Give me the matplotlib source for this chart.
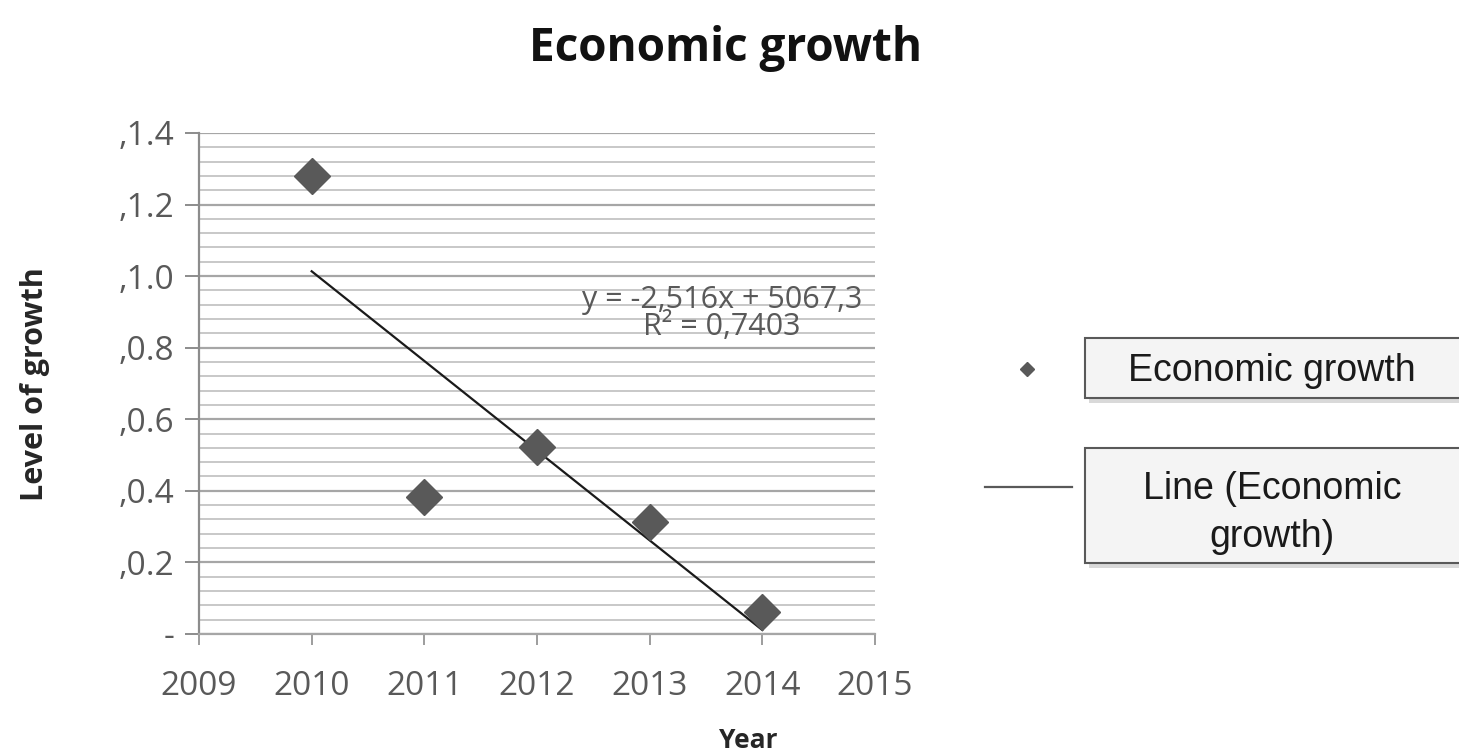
import matplotlib
matplotlib.use("Agg")
import matplotlib.pyplot as plt
import numpy as np
from matplotlib.patches import Rectangle
from matplotlib.lines import Line2D
from matplotlib.ticker import MultipleLocator, FixedLocator, FixedFormatter

# Data
years = [2010, 2011, 2012, 2013, 2014]
growth = [1.28, 0.383, 0.523, 0.313, 0.062]

y_ticks = [0.0, 0.2, 0.4, 0.6, 0.8, 1.0, 1.2, 1.4]
y_tick_labels = ["-", ",0.2", ",0.4", ",0.6", ",0.8", ",1.0", ",1.2", ",1.4"]
x_ticks = [2009, 2010, 2011, 2012, 2013, 2014, 2015]

equation_text = "y = -2,516x + 5067,3\nR\u00b2 = 0,7403"
title_text = "Economic growth"
legend_labels = ["Economic growth", "Line (Economic\ngrowth)"]

# Styling
marker_color = "#595959"
tick_color = "#595959"
grid_major = "#a6a6a6"
grid_minor = "#c4c4c4"
chart_font = "Open Sans"
legend_font = "Liberation Sans"

plt.rcParams['font.family'] = chart_font

fig = plt.figure(figsize=(14.59, 7.54), dpi=100)
ax = fig.add_axes([0.1364, 0.1592, 0.4633, 0.6645])

ax.plot(years, growth, linestyle="none", marker="D", markersize=18,
        color=marker_color, zorder=4)

# linear trendline
slope, intercept = np.polyfit(years, growth, 1)
trend_x = np.array([years[0], years[-1]])
ax.plot(trend_x, slope * trend_x + intercept, color="#1a1a1a", lw=1.6, zorder=3)

ax.text(2013.64, 0.895, equation_text, ha="center", va="center",
        multialignment="center", linespacing=0.85, fontsize=22,
        color="#595959", zorder=5)

ax.set_xlim(2009, 2015)
ax.set_ylim(0, 1.4)
ax.xaxis.set_major_locator(FixedLocator(x_ticks))
ax.yaxis.set_major_locator(FixedLocator(y_ticks))
ax.yaxis.set_major_formatter(FixedFormatter(y_tick_labels))
ax.yaxis.set_minor_locator(MultipleLocator(0.04))

ax.grid(axis="y", which="major", color=grid_major, lw=1.6, zorder=0)
ax.grid(axis="y", which="minor", color=grid_minor, lw=1.3, zorder=0)
ax.set_axisbelow(True)

for side in ["top", "right"]:
    ax.spines[side].set_visible(False)
ax.spines["left"].set_color("#8c8c8c")
ax.spines["left"].set_linewidth(1.6)
ax.spines["bottom"].set_color(grid_major)
ax.spines["bottom"].set_linewidth(1.6)

ax.tick_params(axis="y", which="major", length=10, width=1.4, color="#8c8c8c",
               pad=8, labelsize=24, labelcolor=tick_color)
ax.tick_params(axis="y", which="minor", length=0)
ax.tick_params(axis="x", length=8, width=1.2, color="#8c8c8c",
               pad=18, labelsize=24, labelcolor=tick_color)

fig.text(0.497, 0.936, title_text, ha="center", va="center",
         fontsize=33, fontweight="bold", color="#111111")
fig.text(0.024, 0.49, "Level of growth", rotation=90, ha="center", va="center",
         fontsize=22, fontweight="bold", color="#262626")
fig.text(0.513, 0.018, "Year", ha="center", va="center",
         fontsize=19, fontweight="bold", color="#262626")

# Excel-style legend boxes
boxes = [(0.7437, 0.4721, 0.0796), (0.7437, 0.2533, 0.1525)]
offsets = [-0.004, -0.01]
for (bx, by, bh), label, off in zip(boxes, legend_labels, offsets):
    fig.patches.append(Rectangle((bx + 0.003, by - 0.006), 0.3, bh,
                                 transform=fig.transFigure, facecolor="#d9d9d9",
                                 edgecolor="none", zorder=1))
    fig.patches.append(Rectangle((bx, by), 0.3, bh, transform=fig.transFigure,
                                 facecolor="#f4f4f4", edgecolor="#595959",
                                 lw=1.5, zorder=2))
    fig.text(0.8718, by + bh / 2 + off, label, ha="center", va="center",
             multialignment="center", linespacing=1.45,
             fontsize=27, family=legend_font, color="#1a1a1a", zorder=3)

fig.lines.append(Line2D([0.7039], [0.5106], marker="D", markersize=7,
                        color=marker_color, linestyle="none",
                        transform=fig.transFigure))
fig.lines.append(Line2D([0.675, 0.7348], [0.3541, 0.3541], color="#595959",
                        lw=1.6, transform=fig.transFigure))

fig.savefig("out.png", dpi=100)
